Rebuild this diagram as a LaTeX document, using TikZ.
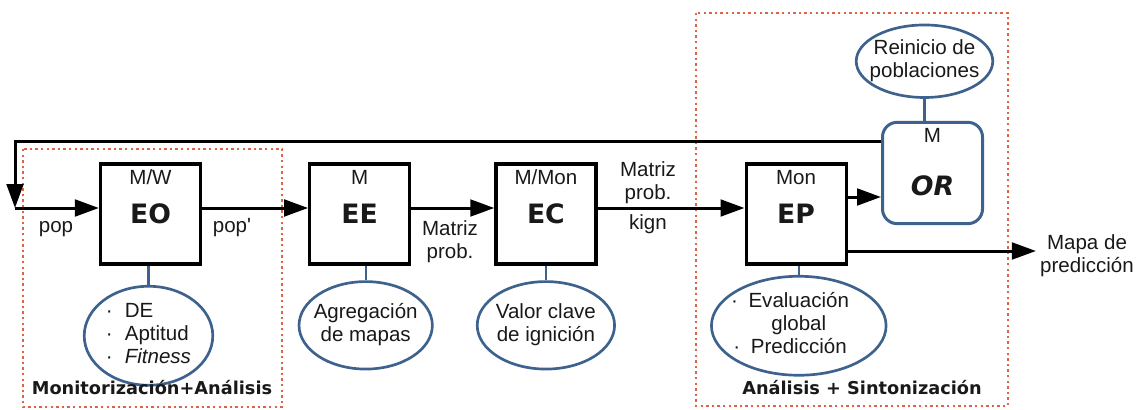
\documentclass[tikz,border=0pt]{standalone}
\usepackage{fontspec}
\setmainfont{Liberation Sans}
\newfontfamily\stagefont{DejaVu Sans}
\usepackage{xcolor}
\definecolor{frameorange}{RGB}{222,100,70}
\definecolor{steel}{RGB}{62,98,142}
\definecolor{ink}{RGB}{25,25,25}
\usepackage{tikz}
\usetikzlibrary{arrows.meta, positioning, shapes.geometric}

% text of an ellipse, kept out of the shape's width
\newcommand{\notebox}[1]{\makebox[0pt]{#1}}

\begin{document}
\begin{tikzpicture}[
    x=0.75pt, y=-0.75pt,
    >={Triangle[length=18pt,width=12.5pt]},
    font=\fontsize{15.4}{17.5}\selectfont,
    text=ink,
    stagebox/.style={draw=black, line width=2.4pt, fill=white, minimum width=75pt, minimum height=75pt, inner sep=0pt, font=\stagefont\bfseries\fontsize{20}{22}\selectfont},
    roundbox/.style={draw=steel, line width=2.25pt, fill=white, rounded corners=11pt, minimum width=75pt, minimum height=76pt, inner sep=0pt},
    tagtext/.style={anchor=base, inner sep=0pt},
    notenode/.style={draw=steel, line width=2pt, fill=white, ellipse, inner sep=0pt},
    link/.style={draw=steel, line width=1.6pt},
    flow/.style={->, line width=2.25pt},
    groupframe/.style={draw=frameorange, line width=1.8pt, dash pattern=on 1.8pt off 2.4pt},
    caption/.style={font=\stagefont\bfseries\fontsize{13.3}{16}\selectfont},
    flowlabel/.style={align=center, inner sep=1pt}
  ]

  \useasboundingbox (0,0) rectangle (1140,410);

  % the two groups
  \draw[groupframe] (23,149) rectangle (282,407);
  \draw[groupframe] (696,13) rectangle (1008,406);

  % stages
  \node (eo) [stagebox] at (150.5,214) {EO};
  \node (ee) [stagebox, right=79.5pt of eo] {EE};
  \node (ec) [stagebox, right=62.25pt of ee] {EC};
  \node (ep) [stagebox, right=110.25pt of ec] {EP};
  \node (orb) [roundbox] at (932.5,173) {};
  \node (ortext) [font=\stagefont\bfseries\itshape\fontsize{20}{22}\selectfont] at ([yshift=-9.75pt]orb.center) {OR};

  \node (eotag) [tagtext] at ([yshift=-16.5pt]eo.north) {M/W};
  \node (eetag) [tagtext] at ([yshift=-16.5pt]ee.north) {M};
  \node (ectag) [tagtext] at ([yshift=-16.5pt]ec.north) {M/Mon};
  \node (eptag) [tagtext] at ([yshift=-16.5pt]ep.north) {Mon};
  \node (ortag) [tagtext] at ([yshift=-16.5pt]orb.north) {M};

  % what each stage does
  \node (eonote) [notenode, minimum width=96.4pt, minimum height=59.6pt, below=14.5pt of eo, xshift=-1.5pt]
    {\notebox{\begin{tabular}{@{}l@{\hspace{9pt}}l@{}}\textperiodcentered & DE\\ \textperiodcentered & Aptitud\\ \textperiodcentered & \textit{Fitness}\end{tabular}}};
  \node (eenote) [notenode, minimum width=100pt, minimum height=65.6pt, below=11pt of ee, xshift=4.5pt]
    {\notebox{\begin{tabular}{@{}c@{}}Agregación\\ de mapas\end{tabular}}};
  \node (ecnote) [notenode, minimum width=103pt, minimum height=65.6pt, below=11pt of ec]
    {\notebox{\begin{tabular}{@{}c@{}}Valor clave\\ de ignición\end{tabular}}};
  \node (epnote) [notenode, minimum width=131pt, minimum height=68pt, below=7pt of ep, xshift=2pt]
    {\notebox{\begin{tabular}{@{}c@{}}\llap{\textperiodcentered\hspace{8pt}}Evaluación\\ global\\ \llap{\textperiodcentered\hspace{8pt}}Predicción\end{tabular}}};
  \node (ornote) [notenode, minimum width=102.4pt, minimum height=54.4pt, above=16.5pt of orb, xshift=-6pt]
    {\notebox{\begin{tabular}{@{}c@{}}Reinicio de\\ poblaciones\end{tabular}}};

  \draw[link] (eonote.north) -- (eonote.north |- eo.south);
  \draw[link] (eenote.north) -- (eenote.north |- ee.south);
  \draw[link] (ecnote.north) -- (ecnote.north |- ec.south);
  \draw[link] (epnote.north) -- (epnote.north |- ep.south);
  \draw[link] (ornote.south) -- (ornote.south |- orb.north);

  % flow labels
  \node (poplbl) at (56,229) {pop};
  \node (popout) at (232,228) {pop\textquotesingle};
  \node (eemat) [flowlabel] at (450,242) {Matriz\\prob.};
  \node (ecmat) [flowlabel] at (648,183) {Matriz\\prob.};
  \node (kign) at (648,224) {kign};
  \node (mapa) [flowlabel, inner sep=3pt] at (1087,256) {Mapa de\\predicción};

  \node (monlabel) [caption] at (152,388) {Monitorización+Análisis};
  \node (tunelabel) [caption] at (862,388) {Análisis + Sintonización};

  % main flow and feedback
  \coordinate (loopin) at (15,208);
  \coordinate (orback) at ([yshift=23.25pt]orb.west);
  \coordinate (epup) at ([yshift=12.75pt]ep.east);
  \coordinate (epdown) at ([yshift=-27.75pt]ep.east);

  \draw[flow] (orback) -| (loopin);
  \draw[flow] (loopin) -- (loopin -| eo.west);
  \draw[flow] (loopin -| eo.east) -- (loopin -| ee.west);
  \draw[flow] (loopin -| ee.east) -- (loopin -| ec.west);
  \draw[flow] (loopin -| ec.east) -- (loopin -| ep.west);
  \draw[flow] (epup) -- (epup -| orb.west);
  \draw[flow] (epdown) -- (epdown -| mapa.west);

\end{tikzpicture}
\end{document}
